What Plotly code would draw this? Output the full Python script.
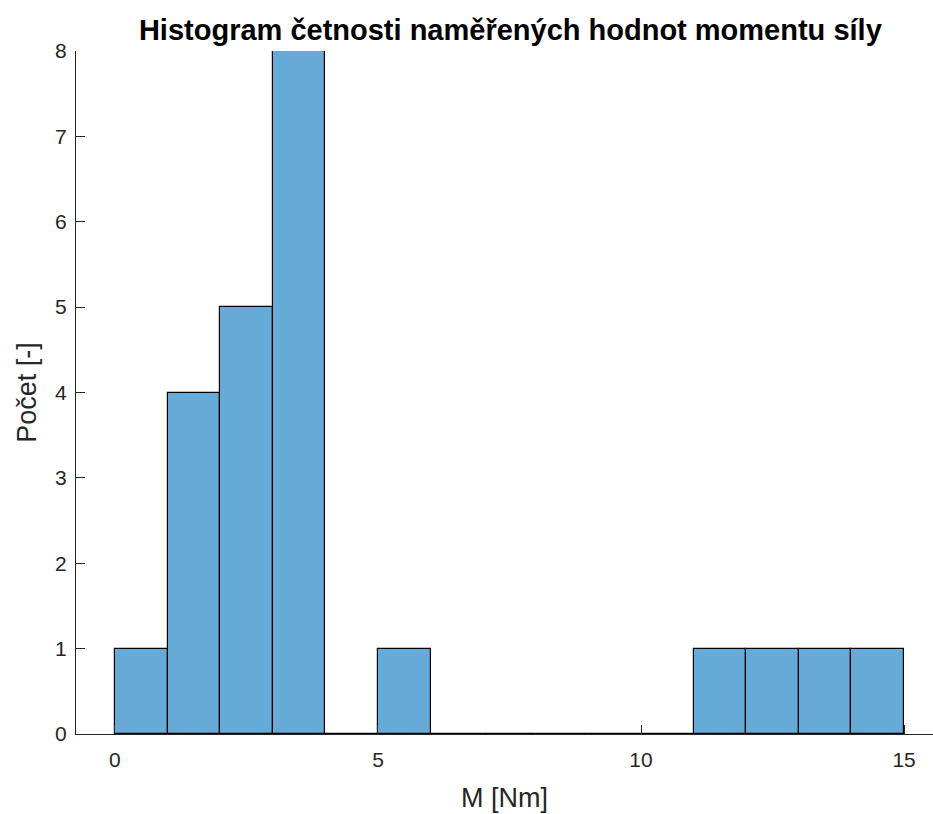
import plotly.graph_objects as go

bin_edges = [0, 1, 2, 3, 4, 5, 6, 7, 8, 9, 10, 11, 12, 13, 14, 15]
counts = [1, 4, 5, 8, 0, 1, 0, 0, 0, 0, 0, 1, 1, 1, 1]
x_ticks = [0, 5, 10, 15]
y_ticks = [0, 1, 2, 3, 4, 5, 6, 7, 8]

centers = [(a + b) / 2 for a, b in zip(bin_edges[:-1], bin_edges[1:])]
widths = [b - a for a, b in zip(bin_edges[:-1], bin_edges[1:])]

axis_color = "#262626"
font_family = "Liberation Sans, Arial, sans-serif"

fig = go.Figure()
fig.add_trace(go.Bar(
    x=centers, y=counts, width=widths,
    marker=dict(color="#66aad7", line=dict(color="#000000", width=1.2)),
    showlegend=False,
))
# zero-height bins drawn as edges along baseline
fig.add_trace(go.Scatter(
    x=[bin_edges[0], bin_edges[-1]], y=[0, 0], mode="lines",
    line=dict(color="#000000", width=1.2), showlegend=False, hoverinfo="skip",
))

fig.update_layout(
    width=933, height=814,
    margin=dict(l=76, r=0, t=51, b=80),
    plot_bgcolor="white", paper_bgcolor="white",
    bargap=0,
    font=dict(family=font_family, color=axis_color, size=21),
    title=dict(
        text="<b>Histogram četnosti naměřených hodnot momentu síly</b>",
        x=0.547, xanchor="center", y=0.963, yanchor="middle",
        font=dict(size=29, color="#000000", family=font_family),
    ),
    xaxis=dict(
        range=[-0.74, 15.55], tickvals=x_ticks, ticks="inside", ticklen=9,
        tickcolor=axis_color, showline=True, linecolor=axis_color, linewidth=1,
        showgrid=False, zeroline=False, tickfont=dict(size=21),
        ticklabelstandoff=7,
        title=dict(text="M [Nm]", font=dict(size=27), standoff=17),
    ),
    yaxis=dict(
        range=[0, 8], tickvals=y_ticks, ticks="inside", ticklen=9,
        tickcolor=axis_color, showline=True, linecolor=axis_color, linewidth=1,
        showgrid=False, zeroline=False, tickfont=dict(size=21),
        ticklabelstandoff=4,
        title=dict(text="Počet [-]", font=dict(size=27), standoff=10),
    ),
)

fig.write_html("out.html", config={"displayModeBar": False},
               post_script="document.body.style.margin='0';")
